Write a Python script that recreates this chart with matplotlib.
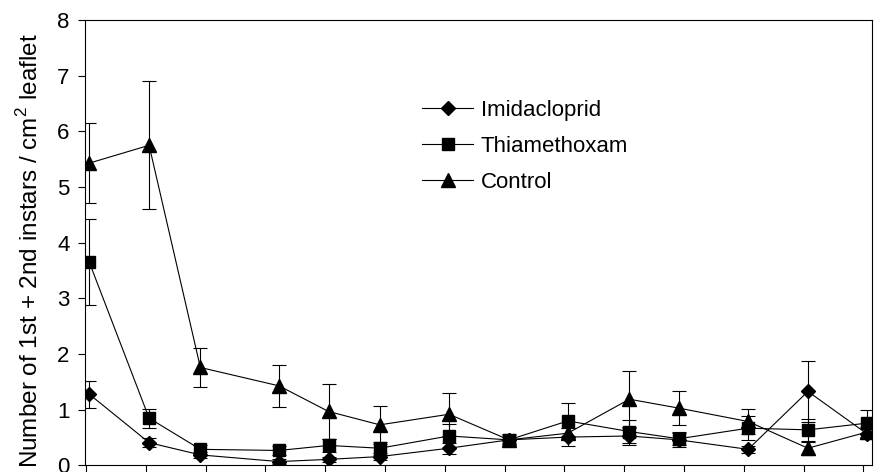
import numpy as np
import matplotlib
matplotlib.use("Agg")
import matplotlib.pyplot as plt

plt.rcParams['font.family'] = ['Liberation Sans', 'DejaVu Sans']

# === Данные ===
days = [0.4, 7.4, 13.4, 22.6, 28.4, 34.4, 42.5, 49.5, 56.4, 63.6, 69.4, 77.5, 84.5, 91.4]

imid = [1.28, 0.41, 0.19, 0.07, 0.11, 0.16, 0.31, 0.46, 0.51, 0.53, 0.46, 0.29, 1.33, 0.57]
imid_se = [0.24, 0.08, 0.05, 0.04, 0.04, 0.06, 0.10, 0.06, 0.16, 0.16, 0.12, 0.06, 0.55, 0.10]

thia = [3.65, 0.85, 0.29, 0.27, 0.36, 0.31, 0.53, 0.46, 0.80, 0.61, 0.48, 0.67, 0.64, 0.76]
thia_se = [0.77, 0.17, 0.08, 0.08, 0.11, 0.12, 0.22, 0.08, 0.33, 0.20, 0.12, 0.22, 0.20, 0.24]

ctrl = [5.43, 5.75, 1.76, 1.43, 0.97, 0.73, 0.92, 0.46, 0.58, 1.19, 1.03, 0.79, 0.31, 0.60]
ctrl_se = [0.72, 1.15, 0.35, 0.38, 0.49, 0.34, 0.39, 0.10, 0.10, 0.51, 0.31, 0.22, 0.12, 0.10]

x_ticks = np.arange(0, 92, 7)
y_ticks = np.arange(0, 9, 1)

# === Фигура ===
fig = plt.figure(figsize=(8.81, 4.72), dpi=100)
ax = fig.add_axes([0.0965, 0.0138, 0.8933, 0.9438])

series = [
    (imid, imid_se, 'D', 7.5, 'Imidacloprid'),
    (thia, thia_se, 's', 8.5, 'Thiamethoxam'),
    (ctrl, ctrl_se, '^', 9.5, 'Control'),
]
for vals, se, mk, ms, label in series:
    ax.errorbar(days, vals, yerr=se, fmt='-', marker=mk, markersize=ms,
                color='black', lw=0.8, elinewidth=0.8, capsize=5,
                capthick=0.8, label=label)

ax.set_xlim(-0.1, 92.0)
ax.set_ylim(0, 8)
ax.set_xticks(x_ticks)
ax.set_yticks(y_ticks)
ax.tick_params(axis='x', direction='out', length=8, width=0.8,
               labelbottom=False)
ax.tick_params(axis='y', direction='out', length=5, width=0.8,
               labelsize=16, pad=6)
for sp in ax.spines.values():
    sp.set_linewidth(0.8)

ax.set_ylabel(r'Number of 1st + 2nd instars / cm$^{\mathregular{2}}$ leaflet',
              fontsize=17.5)
ax.yaxis.set_label_coords(-0.054, 0.483)

# Легенда без рамки, маркеры без усов
handles, labels = ax.get_legend_handles_labels()
handles = [h[0] for h in handles]
ax.legend(handles, labels, loc='upper left', bbox_to_anchor=(0.417, 0.84),
          frameon=False, fontsize=16, handlelength=2.3, handletextpad=0.35,
          labelspacing=0.67, borderaxespad=0)

plt.savefig('out.png', dpi=100)
